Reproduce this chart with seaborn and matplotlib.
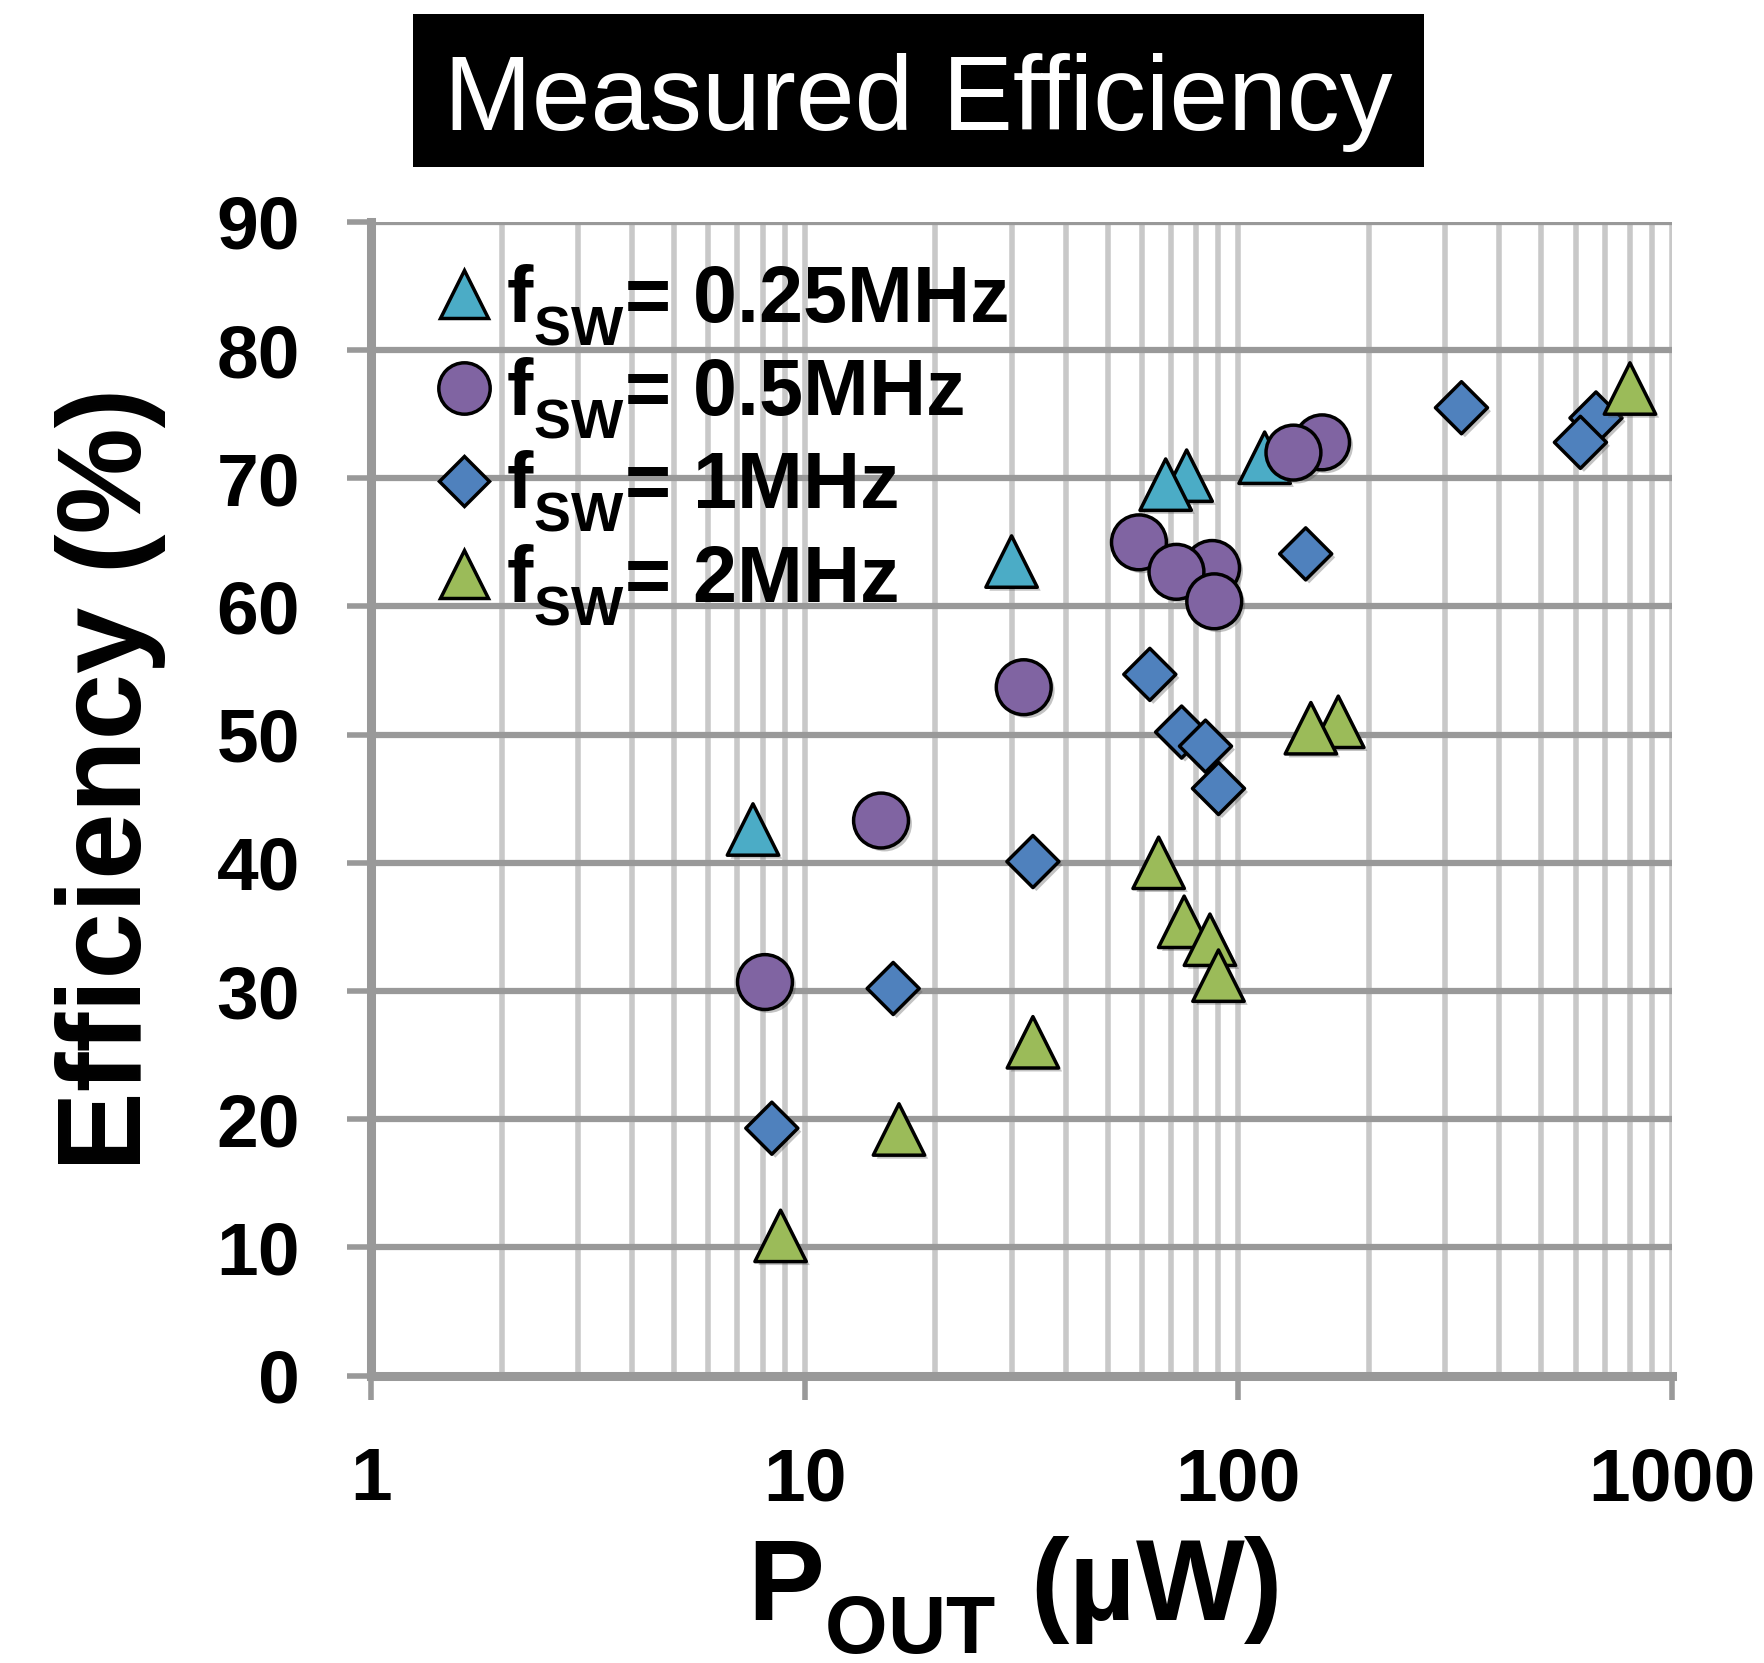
import matplotlib
matplotlib.use("Agg")
import matplotlib.pyplot as plt
import matplotlib.patheffects as pe
from matplotlib.lines import Line2D
from matplotlib.patches import Rectangle
from matplotlib.ticker import LogLocator, NullFormatter
import seaborn as sns

# ---------------- data ----------------
p_025 = [7.6, 30, 76, 68, 115]
e_025 = [42.6, 63.5, 70.2, 69.5, 71.6]

p_05 = [8.1, 15, 32, 87, 59, 72, 88, 156, 134]
e_05 = [30.7, 43.3, 53.7, 63.0, 65.0, 62.7, 60.4, 72.8, 72.0]

p_1 = [8.4, 16, 33.6, 62.5, 74, 84, 90, 143, 327, 668, 615]
e_1 = [19.3, 30.2, 40.1, 54.7, 50.2, 49.1, 45.8, 64.1, 75.5, 74.7, 72.8]

p_2 = [8.8, 16.5, 33.6, 65.5, 75, 86, 90, 170, 147, 800]
e_2 = [10.9, 19.2, 26.0, 40.0, 35.4, 34.0, 31.2, 51.0, 50.5, 77.0]

series_labels = ["f$_{\\rm SW}$= 0.25MHz", "f$_{\\rm SW}$= 0.5MHz",
                 "f$_{\\rm SW}$= 1MHz", "f$_{\\rm SW}$= 2MHz"]
x_ticks = [1, 10, 100, 1000]
x_ticklabels = ["1", "10", "100", "1000"]
y_ticks = [0, 10, 20, 30, 40, 50, 60, 70, 80, 90]
y_ticklabels = [str(v) for v in y_ticks]
title_text = "Measured Efficiency"
xlabel_text = "P$_{\\rm OUT}$ (µW)"
ylabel_text = "Efficiency (%)"

# ---------------- style ----------------
sns.set_theme(style="white")
plt.rcParams["font.family"] = ["Liberation Sans", "DejaVu Sans"]
plt.rcParams["text.color"] = "black"
plt.rcParams["axes.labelcolor"] = "black"
plt.rcParams["mathtext.fontset"] = "custom"
plt.rcParams["mathtext.rm"] = "Liberation Sans:bold"
plt.rcParams["mathtext.bf"] = "Liberation Sans:bold"
plt.rcParams["mathtext.it"] = "Liberation Sans:bold"

# lower subscripts a bit more (closer to the original typesetting)
try:
    import matplotlib._mathtext as _mt
    _mt.FontConstantsBase.sub1 = 0.55
    _mt.FontConstantsBase.sub2 = 0.75
except Exception:
    pass

c_cyan = "#4BACC6"
c_purple = "#8064A2"
c_blue = "#4F81BD"
c_green = "#9BBB59"

fig = plt.figure(figsize=(17.65, 16.63), dpi=100)
ax = fig.add_axes([0.2102, 0.1728, 0.7371, 0.6938])

shadow = [pe.SimplePatchShadow(offset=(2.5, -2.5), shadow_rgbFace="#555555", alpha=0.35),
          pe.Normal()]

specs = [
    (p_025, e_025, "^", 37 ** 2, c_cyan),
    (p_05, e_05, "o", 39.5 ** 2, c_purple),
    (p_1, e_1, "D", 26.5 ** 2, c_blue),
    (p_2, e_2, "^", 37 ** 2, c_green),
]
for px, ey, mk, sz, col in specs:
    sns.scatterplot(x=px, y=ey, marker=mk, s=sz, color=col, edgecolor="black",
                    linewidth=2.5, ax=ax, zorder=3, legend=False)
    ax.collections[-1].set_path_effects(shadow)

ax.set_xscale("log")
ax.set_xlim(1, 1000)
ax.set_ylim(0, 90)
ax.set_xticks(x_ticks)
ax.set_xticklabels(x_ticklabels)
ax.xaxis.set_minor_locator(LogLocator(base=10, subs=range(2, 10)))
ax.xaxis.set_minor_formatter(NullFormatter())
ax.set_yticks(y_ticks)
ax.set_yticklabels(y_ticklabels)

ax.set_axisbelow(True)
ax.grid(which="both", axis="x", color="#c8c8c8", linewidth=4)
ax.grid(which="major", axis="y", color="#999999", linewidth=4.5)

for s in ["top", "right"]:
    ax.spines[s].set_visible(False)
for s in ["left", "bottom"]:
    ax.spines[s].set_color("#999999")
    ax.spines[s].set_linewidth(6.5)

ax.tick_params(axis="both", which="major", length=17, width=4, color="#999999",
               pad=34, labelsize=54, labelcolor="black", direction="out",
               bottom=True, left=True)
ax.tick_params(axis="x", which="minor", length=0)
for lab in ax.get_xticklabels() + ax.get_yticklabels():
    lab.set_fontweight("bold")

# axis labels
ax.set_xlabel(xlabel_text, fontsize=83, fontweight="bold", color="black")
ax.xaxis.label.set_va("baseline")
ax.xaxis.set_label_coords(0.4935, -0.212)
ax.set_ylabel(ylabel_text, fontsize=86, fontweight="bold", color="black")
ax.yaxis.label.set_va("baseline")
ax.yaxis.set_label_coords(-0.1768, 0.517)

# legend
handles = [
    Line2D([], [], linestyle="none", marker="^", markersize=34.5, markerfacecolor=c_cyan,
           markeredgecolor="black", markeredgewidth=2.5),
    Line2D([], [], linestyle="none", marker="o", markersize=37, markerfacecolor=c_purple,
           markeredgecolor="black", markeredgewidth=2.5),
    Line2D([], [], linestyle="none", marker="D", markersize=25, markerfacecolor=c_blue,
           markeredgecolor="black", markeredgewidth=2.5),
    Line2D([], [], linestyle="none", marker="^", markersize=34.5, markerfacecolor=c_green,
           markeredgecolor="black", markeredgewidth=2.5),
]
leg = ax.legend(handles, series_labels, loc="upper left", bbox_to_anchor=(0.052, 0.965),
                frameon=False, borderpad=0, borderaxespad=0, handlelength=0.65,
                handletextpad=0.2, labelspacing=0.1,
                prop={"family": "Liberation Sans", "weight": "bold", "size": 57})
for t in leg.get_texts():
    t.set_color("black")

# title box
fig.patches.append(Rectangle((413 / 1765, 1 - 166.6 / 1663), 1011 / 1765, 153 / 1663,
                             transform=fig.transFigure, facecolor="black",
                             edgecolor="none", zorder=0))
fig.text(0.5204, 1 - 129.5 / 1663, title_text, color="white", fontsize=76,
         ha="center", va="baseline", family="Liberation Sans")

fig.savefig("out.png", dpi=100, facecolor="white")
